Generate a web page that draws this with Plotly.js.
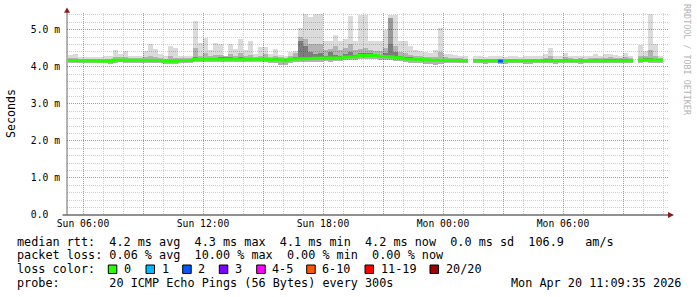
<!DOCTYPE html>
<html><head><meta charset="utf-8">
<script src="https://cdn.plot.ly/plotly-3.0.1.min.js"></script>
<style>html,body{margin:0;padding:0;background:#fff;} #chart{width:697px;height:297px;}</style>
</head><body><div id="chart"></div>
<script>
// ---- data (15-minute bins starting Sun 05:15) ----
const binStartUTC = Date.UTC(2026, 3, 19, 5, 15);
const binMinutes = 15;

const medianRtt = [
4.17,4.16,4.15,4.15,4.16,4.16,4.16,4.15,4.15,4.18,
4.19,4.18,4.17,4.17,4.17,4.17,4.18,4.17,4.17,4.15,
4.14,4.15,4.17,4.16,4.17,4.20,4.20,4.20,4.21,4.21,
4.22,4.22,4.22,4.21,4.21,4.20,4.20,4.20,4.21,4.20,
4.19,4.20,4.19,4.16,4.20,4.21,4.21,4.22,4.22,4.23,
4.23,4.23,4.23,4.24,4.24,4.26,4.26,4.27,4.30,4.31,
4.31,4.30,4.28,4.26,4.26,4.25,4.24,4.21,4.20,4.19,
4.19,4.19,4.18,4.17,4.17,4.17,4.17,4.16,4.16,4.16,
null,4.16,4.16,4.15,4.16,4.16,4.15,4.15,4.16,4.16,
4.16,4.15,4.15,4.16,4.16,4.16,4.16,4.15,4.16,4.16,
4.16,4.16,4.15,4.16,4.16,4.17,4.16,4.17,4.17,4.16,
4.17,4.17,4.16,null,4.18,4.19,4.18,4.18,4.18,null];

const smokeLow = [
4.10,4.10,4.09,4.09,4.10,4.10,4.10,4.09,4.08,4.11,
4.12,4.11,4.10,4.10,4.10,4.10,4.11,4.10,4.10,4.08,
4.07,4.08,4.10,4.09,4.10,4.12,4.12,4.13,4.13,4.12,
4.13,4.14,4.14,4.13,4.13,4.12,4.12,4.12,4.13,4.12,
4.10,4.10,4.05,4.05,4.10,4.13,4.12,4.13,4.14,4.14,
4.14,4.15,4.14,4.15,4.15,4.17,4.17,4.18,4.20,4.21,
4.21,4.20,4.19,4.17,4.17,4.16,4.15,4.12,4.10,4.10,
4.10,4.08,4.06,4.05,4.08,4.09,4.10,4.09,4.09,4.09,
null,4.09,4.09,4.08,4.09,4.09,4.08,4.08,4.09,4.09,
4.09,4.08,4.08,4.09,4.09,4.09,4.09,4.08,4.09,4.09,
4.09,4.09,4.08,4.09,4.09,4.10,4.09,4.10,4.10,4.09,
4.10,4.10,4.09,null,4.11,4.12,4.11,4.11,4.11,null];

const smokeMax = [
4.32,4.33,4.26,4.26,4.27,4.26,4.27,4.30,4.30,4.44,
4.33,4.43,4.30,4.28,4.30,4.41,4.60,4.48,4.33,4.30,
4.56,4.50,4.30,4.30,4.30,5.23,4.65,4.78,4.45,4.65,
4.62,4.30,4.62,4.48,4.74,4.45,4.69,4.35,4.53,4.53,
4.35,4.48,4.32,4.30,4.40,4.41,5.05,5.42,5.33,5.42,
5.42,4.68,4.70,4.85,4.69,4.75,5.36,4.68,5.40,5.40,
4.68,4.68,4.70,5.00,5.40,5.40,4.70,4.68,4.55,4.45,
4.42,4.40,4.38,4.45,5.05,4.35,4.33,4.32,4.30,4.30,
null,4.28,4.28,4.27,4.28,4.30,4.28,4.27,4.28,4.28,
4.27,4.28,4.30,4.28,4.28,4.35,4.50,4.28,4.28,4.38,
4.30,4.28,4.30,4.28,4.30,4.33,4.30,4.33,4.33,4.31,
4.30,4.38,4.30,null,4.58,4.42,5.41,4.62,4.30,null];

const smokeMid = [
4.24,4.23,4.21,4.21,4.22,4.22,4.22,4.22,4.22,4.26,
4.25,4.26,4.24,4.23,4.24,4.26,4.30,4.26,4.24,4.22,
4.28,4.24,4.24,4.23,4.24,4.50,4.30,4.36,4.30,4.32,
4.32,4.29,4.33,4.30,4.36,4.28,4.32,4.27,4.30,4.33,
4.27,4.30,4.26,4.24,4.30,4.38,4.80,4.75,4.60,4.62,
4.60,4.45,4.48,4.55,4.45,4.50,4.62,4.45,4.48,4.50,
4.45,4.42,4.42,4.50,4.60,4.55,4.40,4.38,4.32,4.30,
4.28,4.27,4.26,4.26,4.40,4.25,4.24,4.23,4.23,4.22,
null,4.22,4.22,4.21,4.22,4.22,4.22,4.21,4.22,4.22,
4.21,4.22,4.22,4.22,4.22,4.24,4.28,4.22,4.22,4.26,
4.23,4.22,4.23,4.22,4.23,4.24,4.23,4.24,4.25,4.24,
4.23,4.26,4.23,null,4.30,4.28,4.45,4.30,4.24,null];

const smokeCore = [
4.20,4.19,4.18,4.18,4.19,4.19,4.19,4.18,4.18,4.21,
4.22,4.21,4.20,4.20,4.20,4.20,4.22,4.20,4.20,4.18,
4.18,4.18,4.20,4.19,4.20,4.26,4.24,4.24,4.24,4.24,
4.25,4.25,4.26,4.24,4.25,4.23,4.24,4.23,4.24,4.24,
4.22,4.23,4.22,4.20,4.23,4.25,4.68,4.55,4.40,4.35,
4.38,4.30,4.40,4.32,4.30,4.33,4.40,4.32,4.38,4.38,
4.36,4.34,4.32,4.38,5.30,4.40,4.30,4.26,4.25,4.23,
4.22,4.22,4.21,4.20,4.22,4.20,4.20,4.19,4.19,4.19,
null,4.19,4.19,4.18,4.19,4.19,4.18,4.18,4.19,4.19,
4.19,4.18,4.18,4.19,4.19,4.20,4.21,4.18,4.19,4.20,
4.19,4.19,4.18,4.19,4.19,4.20,4.19,4.20,4.21,4.20,
4.20,4.21,4.19,null,4.22,4.23,4.24,4.22,4.21,null];

// lost pings (of 20) per bin; only non-zero entries listed
const lossBins = [86];
const lossValues = [2];

const xTickVals = ['2026-04-19 06:00','2026-04-19 09:00','2026-04-19 12:00','2026-04-19 15:00',
  '2026-04-19 18:00','2026-04-19 21:00','2026-04-20 00:00','2026-04-20 03:00',
  '2026-04-20 06:00','2026-04-20 09:00'];
const xTickText = ['Sun 06:00','','Sun 12:00','','Sun 18:00','','Mon 00:00','','Mon 06:00',''];
const yTickVals = [0,1,2,3,4,5];
const yTickText = ['0.0\u00a0\u00a0','1.0 m','2.0 m','3.0 m','4.0 m','5.0 m'];

const lossLabels = ['0','1','2','3','4-5','6-10','11-19','20/20'];
const lossColors = ['#26ff00','#00b8ff','#0059ff','#7e00ff','#ff00ff','#ff5500','#ff0000','#a10000'];

const legendLines = [
  'median rtt:  4.2 ms avg  4.3 ms max  4.1 ms min  4.2 ms now  0.0 ms sd  106.9   am/s',
  'packet loss: 0.06 % avg  10.00 % max  0.00 % min  0.00 % now',
  'loss color:',
  'probe:       20 ICMP Echo Pings (56 Bytes) every 300s'
];
const stampText = 'Mon Apr 20 11:09:35 2026';

// ---- build ----
const STEP = binMinutes * 60000;
const n = medianRtt.length;
const centers = [], starts = [];
for (let i = 0; i < n; i++) { starts.push(binStartUTC + i*STEP); centers.push(binStartUTC + i*STEP + STEP/2); }

function band(lo, hi) {
  const base = [], h = [];
  for (let i = 0; i < n; i++) {
    if (lo[i] == null || hi[i] == null) { base.push(null); h.push(null); }
    else { base.push(lo[i]); h.push(Math.max(0, hi[i]-lo[i])); }
  }
  return {base, h};
}
function lossIdx(c){ if(c<=0)return 0; if(c<=3)return c; if(c<=5)return 4; if(c<=10)return 5; if(c<20)return 6; return 7; }

const traces = [];
const bands = [
  [smokeLow, smokeMax, 'rgba(0,0,0,0.14)'],
  [smokeLow, smokeMid, 'rgba(0,0,0,0.18)'],
  [medianRtt, smokeCore, 'rgba(0,0,0,0.30)']
];
bands.forEach(b => {
  const r = band(b[0], b[1]);
  traces.push({type:'bar', x:centers, y:r.h, base:r.base, width:STEP,
    marker:{color:b[2], line:{width:0}}, hoverinfo:'skip', showlegend:false});
});

// median step line
const mx = [], my = [];
for (let i = 0; i < n; i++) {
  if (medianRtt[i] == null) { mx.push(starts[i]); my.push(null); continue; }
  mx.push(starts[i], starts[i]+STEP); my.push(medianRtt[i], medianRtt[i]);
}
traces.push({type:'scatter', mode:'lines', x:mx, y:my, line:{color:lossColors[0], width:3}, connectgaps:false, hoverinfo:'skip', showlegend:false});
lossBins.forEach((b, k) => {
  traces.push({type:'scatter', mode:'lines', x:[starts[b], starts[b]+STEP], y:[medianRtt[b], medianRtt[b]],
    line:{color:lossColors[lossIdx(lossValues[k])], width:3}, hoverinfo:'skip', showlegend:false});
});

// ---- layout helpers (pixel -> paper) ----
const L=67, R=668, T=13, B=215;
const px = v => (v-L)/(R-L);
const py = v => (B-v)/(B-T);
const MONO = 'DejaVu Sans Mono';

const annotations = [];
const lineY = [241.7, 255.2, 269.2, 282.7];
legendLines.forEach((s, i) => annotations.push({xref:'paper', yref:'paper', x:px(16), y:py(lineY[i]),
  xanchor:'left', yanchor:'middle', showarrow:false, borderpad:0, text:s.replace(/ /g,'\u00a0'),
  font:{family:MONO, size:11.8, color:'#000'}}));
annotations.push({xref:'paper', yref:'paper', x:px(682), y:py(lineY[3]), xanchor:'right', yanchor:'middle',
  showarrow:false, borderpad:0, text:stampText.replace(/ /g,'\u00a0'), font:{family:MONO, size:11.8, color:'#000'}});
annotations.push({xref:'paper', yref:'paper', x:px(11), y:py(114), xanchor:'center', yanchor:'middle',
  showarrow:false, borderpad:0, textangle:-90, text:'Seconds', font:{family:MONO, size:11.6, color:'#000'}});
annotations.push({xref:'paper', yref:'paper', x:px(687), y:py(60), xanchor:'center', yanchor:'middle',
  showarrow:false, borderpad:0, textangle:90, text:'RRDTOOL / TOBI OETIKER'.replace(/ /g,'\u00a0'),
  font:{family:MONO, size:8.4, color:'#b4b4b4'}});

const sqX = [108.3, 146, 182.7, 219.3, 256.7, 306.7, 365, 430];
const shapes = [];
sqX.forEach((x0, i) => {
  shapes.push({type:'rect', xref:'paper', yref:'paper', x0:px(x0), x1:px(x0+8.5), y0:py(273.5), y1:py(265),
    fillcolor:lossColors[i], line:{color:'#000', width:1}});
  annotations.push({xref:'paper', yref:'paper', x:px(x0+14.5), y:py(lineY[2]), xanchor:'left', yanchor:'middle',
    showarrow:false, borderpad:0, text:lossLabels[i], font:{family:MONO, size:11.8, color:'#000'}});
});
// axis stubs and arrows
shapes.push({type:'line', xref:'paper', yref:'paper', x0:px(62.5), x1:px(668), y0:0, y1:0, line:{color:'#222', width:1}});
shapes.push({type:'line', xref:'paper', yref:'paper', x0:0, x1:0, y0:0, y1:py(12), line:{color:'#666', width:1}});
shapes.push({type:'path', xref:'paper', yref:'paper',
  path:`M ${px(64)} ${py(12.8)} L ${px(70)} ${py(12.8)} L ${px(67)} ${py(7.5)} Z`, fillcolor:'#8b1c1c', line:{width:0}});
shapes.push({type:'path', xref:'paper', yref:'paper',
  path:`M ${px(668)} ${py(212)} L ${px(668)} ${py(218)} L ${px(674)} ${py(215)} Z`, fillcolor:'#8b1c1c', line:{width:0}});

const layout = {
  width:697, height:297, margin:{l:L, r:697-R, t:T, b:297-B},
  paper_bgcolor:'#fff', plot_bgcolor:'#fff', barmode:'overlay', bargap:0, showlegend:false,
  xaxis:{type:'date', range:['2026-04-19 05:12','2026-04-20 11:15'], tickmode:'array', tickvals:xTickVals, ticktext:xTickText,
    showgrid:true, gridcolor:'rgba(210,60,60,0.45)', griddash:'1px,1px', gridwidth:1, zeroline:false, showline:false,
    ticks:'', tickfont:{family:MONO, size:9.7, color:'#000'}, ticklabelstandoff:1,
    minor:{dtick:3600000, showgrid:true, gridcolor:'#cfcfcf', griddash:'1px,1px', ticks:''}, fixedrange:true},
  yaxis:{range:[0, 5.448], tickmode:'array', tickvals:yTickVals, ticktext:yTickText,
    showgrid:true, gridcolor:'rgba(210,60,60,0.45)', griddash:'1px,1px', gridwidth:1, zeroline:false, showline:false,
    ticks:'', tickfont:{family:MONO, size:9.7, color:'#000'}, ticklabelstandoff:6,
    minor:{dtick:0.2, showgrid:true, gridcolor:'#cfcfcf', griddash:'1px,1px', ticks:''}, fixedrange:true},
  annotations, shapes
};
Plotly.newPlot('chart', traces, layout, {displayModeBar:false, staticPlot:true});
</script></body></html>
